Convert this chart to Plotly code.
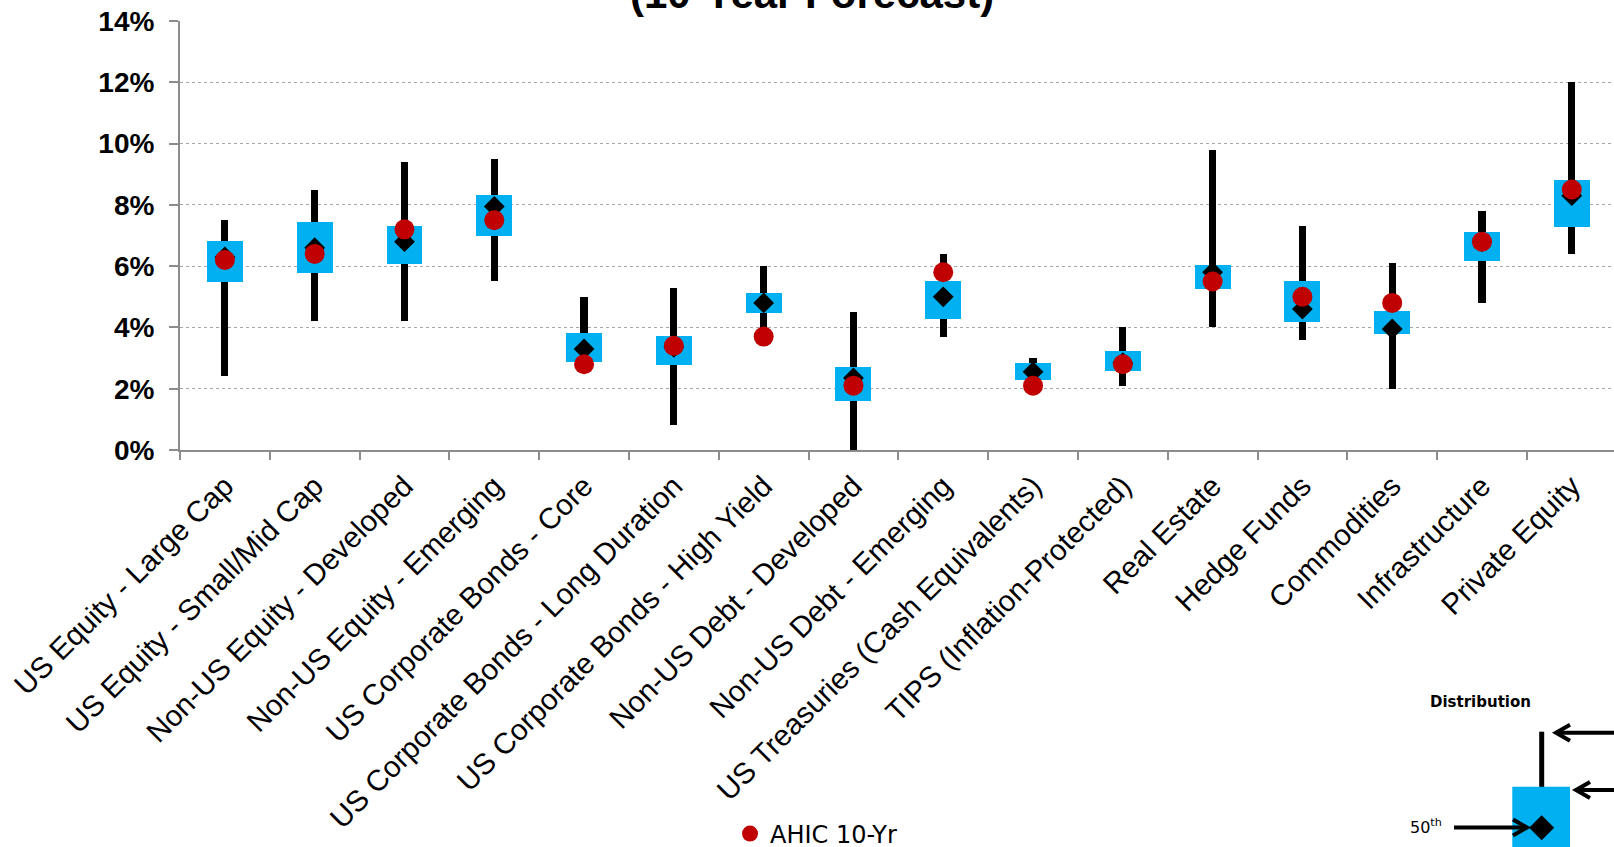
import plotly.graph_objects as go

# ---------------- data (percent) ----------------
categories = [
    "US Equity - Large Cap",
    "US Equity - Small/Mid Cap",
    "Non-US Equity - Developed",
    "Non-US Equity - Emerging",
    "US Corporate Bonds - Core",
    "US Corporate Bonds - Long Duration",
    "US Corporate Bonds - High Yield",
    "Non-US Debt - Developed",
    "Non-US Debt - Emerging",
    "US Treasuries (Cash Equivalents)",
    "TIPS (Inflation-Protected)",
    "Real Estate",
    "Hedge Funds",
    "Commodities",
    "Infrastructure",
    "Private Equity",
]
whisker_high = [7.5, 8.5, 9.4, 9.5, 5.0, 5.3, 6.0, 4.5, 6.4, 3.0, 4.0, 9.8, 7.3, 6.1, 7.8, 12.0]
whisker_low = [2.4, 4.2, 4.2, 5.5, 2.7, 0.8, 3.8, 0.0, 3.7, 2.2, 2.1, 4.0, 3.6, 2.0, 4.8, 6.4]
box_high = [6.83, 7.43, 7.31, 8.32, 3.82, 3.73, 5.13, 2.72, 5.53, 2.84, 3.23, 6.03, 5.53, 4.53, 7.13, 8.82]
box_low = [5.47, 5.77, 6.07, 6.97, 2.88, 2.79, 4.47, 1.59, 4.28, 2.28, 2.58, 5.27, 4.18, 3.77, 6.18, 7.27]
median = [6.3, 6.6, 6.8, 7.95, 3.3, 3.35, 4.8, 2.35, 5.0, 2.55, 2.85, 5.8, 4.6, 3.95, 6.8, 8.3]
ahic_10yr = [6.2, 6.4, 7.2, 7.5, 2.8, 3.4, 3.7, 2.1, 5.8, 2.1, 2.8, 5.5, 5.0, 4.8, 6.8, 8.5]

y_ticks = [0, 2, 4, 6, 8, 10, 12, 14]
y_tick_labels = [f"{v}%" for v in y_ticks]

BLUE = "#00B0F0"
RED = "#C00000"

# ---------------- layout geometry ----------------
W, H = 1614, 847
ML, MR, MT, MB = 180, 0, 21, 397
PW = W - ML - MR
PH = H - MT - MB


def px(x):
    return (x - ML) / PW


def py(y):
    return (H - MB - y) / PH


fig = go.Figure()

fig.add_trace(go.Bar(
    x=categories,
    y=[h - l for h, l in zip(whisker_high, whisker_low)],
    base=whisker_low,
    width=0.08,
    marker=dict(color="black", line=dict(width=0)),
    showlegend=False,
    name="Range",
))
fig.add_trace(go.Bar(
    x=categories,
    y=[h - l for h, l in zip(box_high, box_low)],
    base=box_low,
    width=0.4,
    marker=dict(color=BLUE, line=dict(width=0)),
    showlegend=False,
    name="Interquartile",
))
fig.add_trace(go.Scatter(
    x=categories, y=median, mode="markers",
    marker=dict(symbol="diamond", size=16, color="black", line=dict(width=0)),
    showlegend=False, name="50th",
))
fig.add_trace(go.Scatter(
    x=categories, y=ahic_10yr, mode="markers",
    marker=dict(symbol="circle", size=20, color=RED, line=dict(width=0)),
    showlegend=True, name="AHIC 10-Yr",
))

# ---------------- distribution legend (decoration) ----------------
shapes = []
cx, cy = 1541.7, 827.7
shapes.append(dict(type="line", xref="paper", yref="paper",
                   x0=px(cx), x1=px(cx), y0=py(731.7), y1=py(788),
                   line=dict(color="black", width=5)))
shapes.append(dict(type="rect", xref="paper", yref="paper",
                   x0=px(1512.3), x1=px(1570), y0=py(786.7), y1=py(852),
                   fillcolor=BLUE, line=dict(width=0)))
d = 12.5
shapes.append(dict(type="path", xref="paper", yref="paper",
                   path=f"M {px(cx-d)} {py(cy)} L {px(cx)} {py(cy-d)} L {px(cx+d)} {py(cy)} L {px(cx)} {py(cy+d)} Z",
                   fillcolor="black", line=dict(width=0)))


def arrow(x_from, x_tip, y, direction):
    shapes.append(dict(type="line", xref="paper", yref="paper",
                       x0=px(x_from), x1=px(x_tip), y0=py(y), y1=py(y),
                       line=dict(color="black", width=4)))
    a = 14 * direction
    shapes.append(dict(type="path", xref="paper", yref="paper",
                       path=f"M {px(x_tip - a)} {py(y - 8)} L {px(x_tip)} {py(y)} L {px(x_tip - a)} {py(y + 8)}",
                       line=dict(color="black", width=4)))


arrow(1454, 1527, 827.5, 1)
arrow(1620, 1556, 732.7, -1)
arrow(1620, 1576, 790, -1)

annotations = [
    dict(text="<b>(10-Year Forecast)</b>", xref="paper", yref="paper",
         x=px(812), y=1, xanchor="center", yanchor="bottom", showarrow=False,
         font=dict(family="Liberation Sans, Arial", size=42, color="black"), yshift=2),
    dict(text="<b>Distribution</b>", xref="paper", yref="paper",
         x=px(1480), y=py(702), xanchor="center", yanchor="middle", showarrow=False,
         font=dict(family="DejaVu Sans", size=15, color="black")),
    dict(text="50<sup>th</sup>", xref="paper", yref="paper",
         x=px(1444), y=py(826), xanchor="right", yanchor="middle", showarrow=False,
         font=dict(family="DejaVu Sans", size=16, color="black")),
]

fig.update_layout(
    width=W, height=H,
    margin=dict(l=ML, r=MR, t=MT, b=MB, pad=0, autoexpand=False),
    paper_bgcolor="white", plot_bgcolor="white",
    barmode="overlay",
    bargap=0,
    shapes=shapes,
    annotations=annotations,
    legend=dict(x=px(730), y=py(834), xanchor="left", yanchor="middle",
                font=dict(family="DejaVu Sans", size=24, color="black"),
                bgcolor="rgba(0,0,0,0)", itemclick=False),
    xaxis=dict(
        type="category", categoryorder="array", categoryarray=categories,
        range=[-0.5, 15.47],
        automargin=False,
        tickangle=-45,
        tickfont=dict(family="Liberation Sans, Arial", size=29.5, color="black"),
        ticks="outside", ticklen=8, tickwidth=1.5, tickcolor="#8c8c8c",
        tickson="boundaries",
        ticklabelstandoff=5,
        showline=True, linecolor="#8c8c8c", linewidth=2,
        showgrid=False, zeroline=False,
    ),
    yaxis=dict(
        range=[0, 14], tickmode="array", tickvals=y_ticks, ticktext=y_tick_labels,
        automargin=False,
        tickfont=dict(family="Liberation Sans, Arial", size=28, color="black", weight="bold"),
        ticks="outside", ticklen=9, tickwidth=1.5, tickcolor="#8c8c8c",
        ticklabelstandoff=9,
        showline=True, linecolor="#8c8c8c", linewidth=2,
        showgrid=True, gridcolor="#a6a6a6", gridwidth=1, griddash="dot",
        zeroline=False,
    ),
)

fig.write_html("out.html")
